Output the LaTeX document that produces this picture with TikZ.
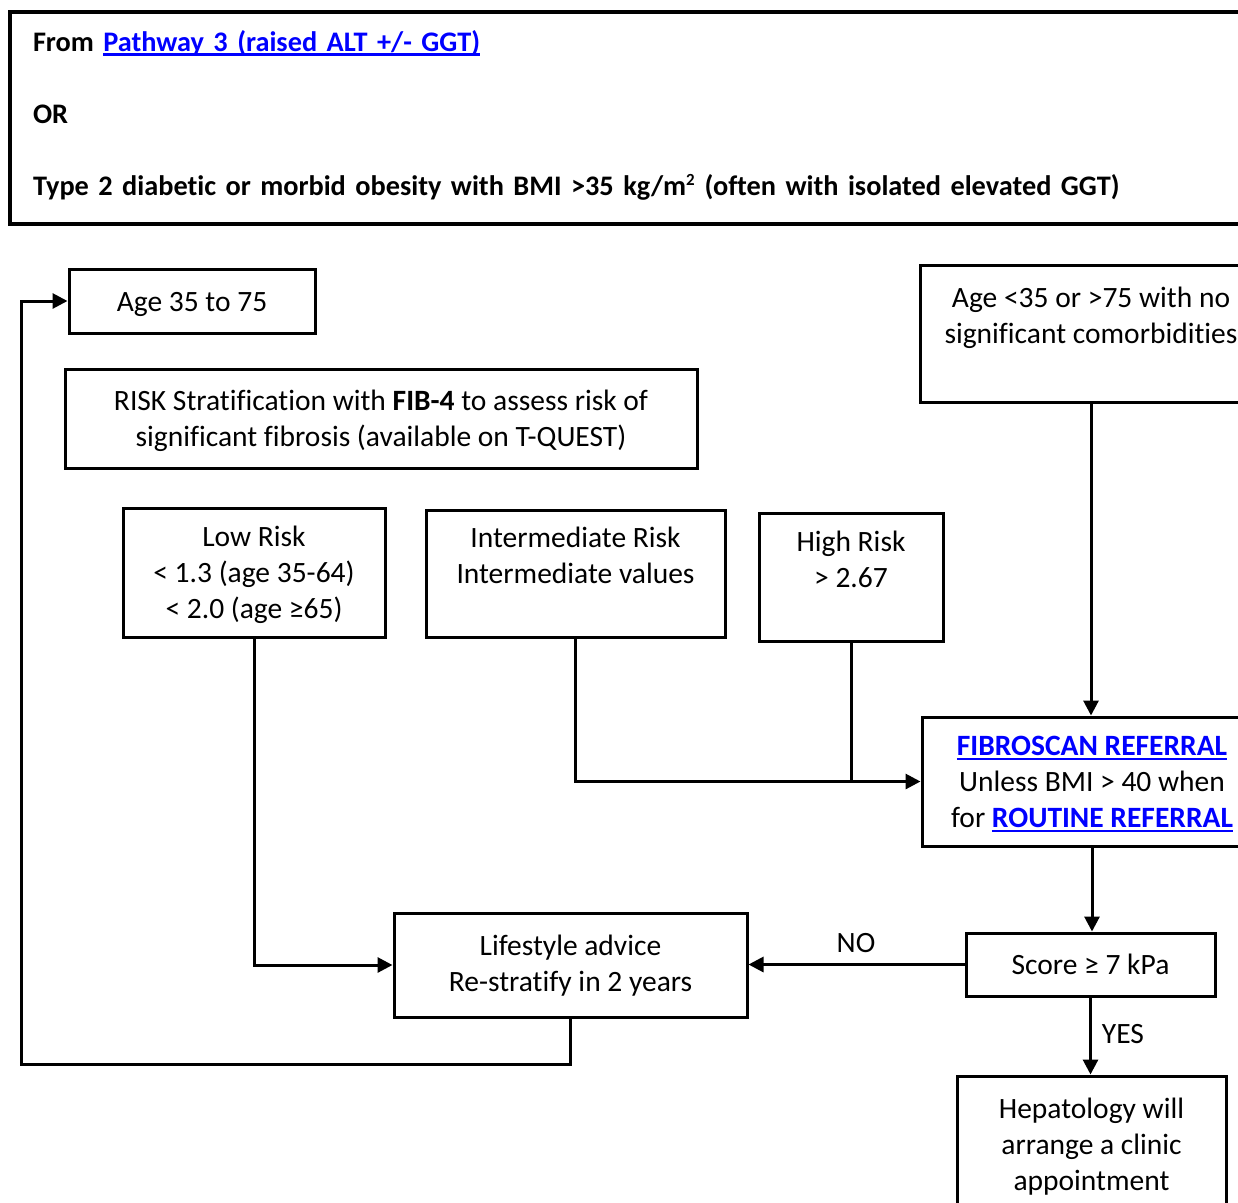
\documentclass[tikz,border=0pt]{standalone}
\usepackage{fontspec}
\setmainfont{Carlito}[Ligatures=NoCommon]
\usetikzlibrary{arrows.meta}
\definecolor{linkblue}{RGB}{0,0,255}
\newcommand\lnk[1]{{\color{linkblue}\bfseries\setbox0\hbox{#1}\rlap{\rule[-4.5pt]{\wd0}{2.4pt}}\box0}}
\newcommand\st{\rule[-8pt]{0pt}{36pt}}
\newcommand\lst{\rule[-10pt]{0pt}{36pt}}
\newcommand\tst{\rule[-13pt]{0pt}{36pt}}
\newcommand\topfont{\fontsize{28.3}{36}\selectfont\bfseries}
\begin{document}
\begin{tikzpicture}[x=1pt,y=-1pt,
  box/.style={draw, line width=3pt, inner sep=0pt, align=center,
    font=\fontsize{29.5}{36}\selectfont},
  conn/.style={line width=3pt},
  arr/.style={line width=3pt, -{Triangle[length=15pt,width=15pt]}},
  lbl/.style={font=\fontsize{29.5}{36}\selectfont, inner sep=0pt}]
\path[use as bounding box] (0,0) rectangle (1238,1202);
\clip (0,0) rectangle (1238,1202);

\node[box, line width=3.5pt, minimum width=1252pt, minimum height=212pt, text width=1206pt, align=left,
  font=\topfont] (top) at (636,118)
  {\tst From \lnk{Pathway 3 (raised ALT +/- GGT)}\\\tst\\\tst OR\\\tst\\\tst Type 2 diabetic or morbid obesity with BMI >35 kg/m\textsuperscript{\fontsize{17}{17}\selectfont 2} (often with isolated elevated GGT)};

\node[box, minimum width=246pt, minimum height=64pt] (age) at (192,301) {\st Age 35 to 75};
\node[box, minimum width=632pt, minimum height=99pt] (risk) at (381,418.5)
  {\st RISK Stratification with \textbf{FIB-4} to assess risk of\\\st significant fibrosis (available on T-QUEST)};
\node[box, minimum width=262pt, minimum height=129pt] (low) at (254,572.5)
  {\st Low Risk\\\st < 1.3 (age 35-64)\\\st < 2.0 (age ≥65)};
\node[box, minimum width=299pt, minimum height=127pt] (inter) at (575.5,573.5)
  {\st Intermediate Risk\\\st Intermediate values\\\st};
\node[box, minimum width=184pt, minimum height=128pt] (high) at (851,577)
  {\st High Risk\\\st > 2.67\\\st};
\node[box, minimum width=342pt, minimum height=137pt] (age2) at (1091,333.5)
  {\st Age <35 or >75 with no\\\st significant comorbidities\\\st};
\node[box, minimum width=340pt, minimum height=129pt] (fib) at (1092,781.5)
  {\st\lnk{FIBROSCAN REFERRAL}\\\st Unless BMI > 40 when\\\st for \lnk{ROUTINE REFERRAL}};
\node[box, minimum width=249pt, minimum height=63pt] (score) at (1090.5,964.5)
  {\st Score ≥ 7 kPa};
\node[box, minimum width=353pt, minimum height=104pt] (life) at (570.5,965)
  {\lst Lifestyle advice\\\lst Re-stratify in 2 years};
\node[box, minimum width=269pt, minimum height=136pt] (hep) at (1091.5,1144)
  {\st Hepatology will\\\st arrange a clinic\\\st appointment};

\coordinate (loop) at (21,1064);
\draw[arr] (life.south) |- (loop) |- (age.west);
\draw[arr] (low.south) |- (life.west);
\draw[arr] (inter.south) |- (fib.west);
\draw[conn] (high.south) -- (high.south |- fib.west);
\draw[arr] (age2.south) -- (age2.south |- fib.north);
\draw[arr] (fib.south) -- (fib.south |- score.north);
\draw[arr] (score.west) -- (score.west -| life.east);
\node[lbl] (no) at (856,943) {NO};
\draw[arr] (score.south) -- (score.south |- hep.north);
\node[lbl] (yes) at (1123,1034) {YES};
\end{tikzpicture}
\end{document}
